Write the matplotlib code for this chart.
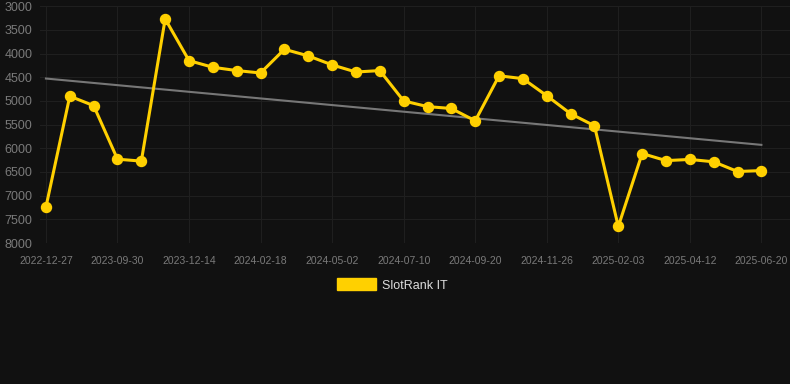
import matplotlib.pyplot as plt
import matplotlib.patches as mpatches
import numpy as np

plt.rcParams['font.family'] = ['Liberation Sans', 'DejaVu Sans']

# x labels shown every 3rd point
dates = ["2022-12-27", "", "", "2023-09-30", "", "", "2023-12-14", "", "",
         "2024-02-18", "", "", "2024-05-02", "", "", "2024-07-10", "", "",
         "2024-09-20", "", "", "2024-11-26", "", "", "2025-02-03", "", "",
         "2025-04-12", "", "", "2025-06-20"]
ranks = [7240, 4900, 5100, 6230, 6270, 3270, 4150, 4290, 4360, 4410,
         3910, 4050, 4240, 4390, 4360, 5000, 5120, 5160, 5420, 4470,
         4530, 4890, 5270, 5525, 7650, 6110, 6260, 6235, 6285, 6490, 6470]
y_ticks = [3000, 3500, 4000, 4500, 5000, 5500, 6000, 6500, 7000, 7500, 8000]

bg = "#111111"
gold = "#FFD000"

fig = plt.figure(figsize=(7.9, 3.84), dpi=100, facecolor=bg)
ax = fig.add_axes([0.05, 0.367, 0.95, 0.617], facecolor=bg)

x = np.arange(len(ranks))

# linear trend
slope, icpt = np.polyfit(x, ranks, 1)
ax.plot(x, slope * x + icpt, color="#777777", lw=1.5, zorder=2)

ax.plot(x, ranks, color=gold, lw=2.2, marker="o", markersize=7.2,
        markerfacecolor=gold, markeredgecolor=gold, zorder=3)

ax.set_ylim(8000, 3000)
ax.set_xlim(-0.27, 31.2)
ax.set_yticks(y_ticks)
tick_idx = [i for i, d in enumerate(dates) if d]
ax.set_xticks(tick_idx)
ax.set_xticklabels([dates[i] for i in tick_idx])

ax.grid(True, color="#1f1f1f", lw=0.8)
ax.set_axisbelow(True)
for s in ax.spines.values():
    s.set_visible(False)
ax.tick_params(axis="both", length=0, colors="#7a7a7a")
ax.tick_params(axis="y", labelsize=9, pad=5)
ax.tick_params(axis="x", labelsize=7.5, pad=9)

handle = mpatches.Patch(color=gold, label="SlotRank IT")
leg = fig.legend(handles=[handle], loc="center", bbox_to_anchor=(0.497, 0.258),
                 frameon=False, fontsize=9, handlelength=3.1, handleheight=1.1,
                 handletextpad=0.5)
for t in leg.get_texts():
    t.set_color("#dddddd")

fig.savefig("out.png", dpi=100, facecolor=bg)
